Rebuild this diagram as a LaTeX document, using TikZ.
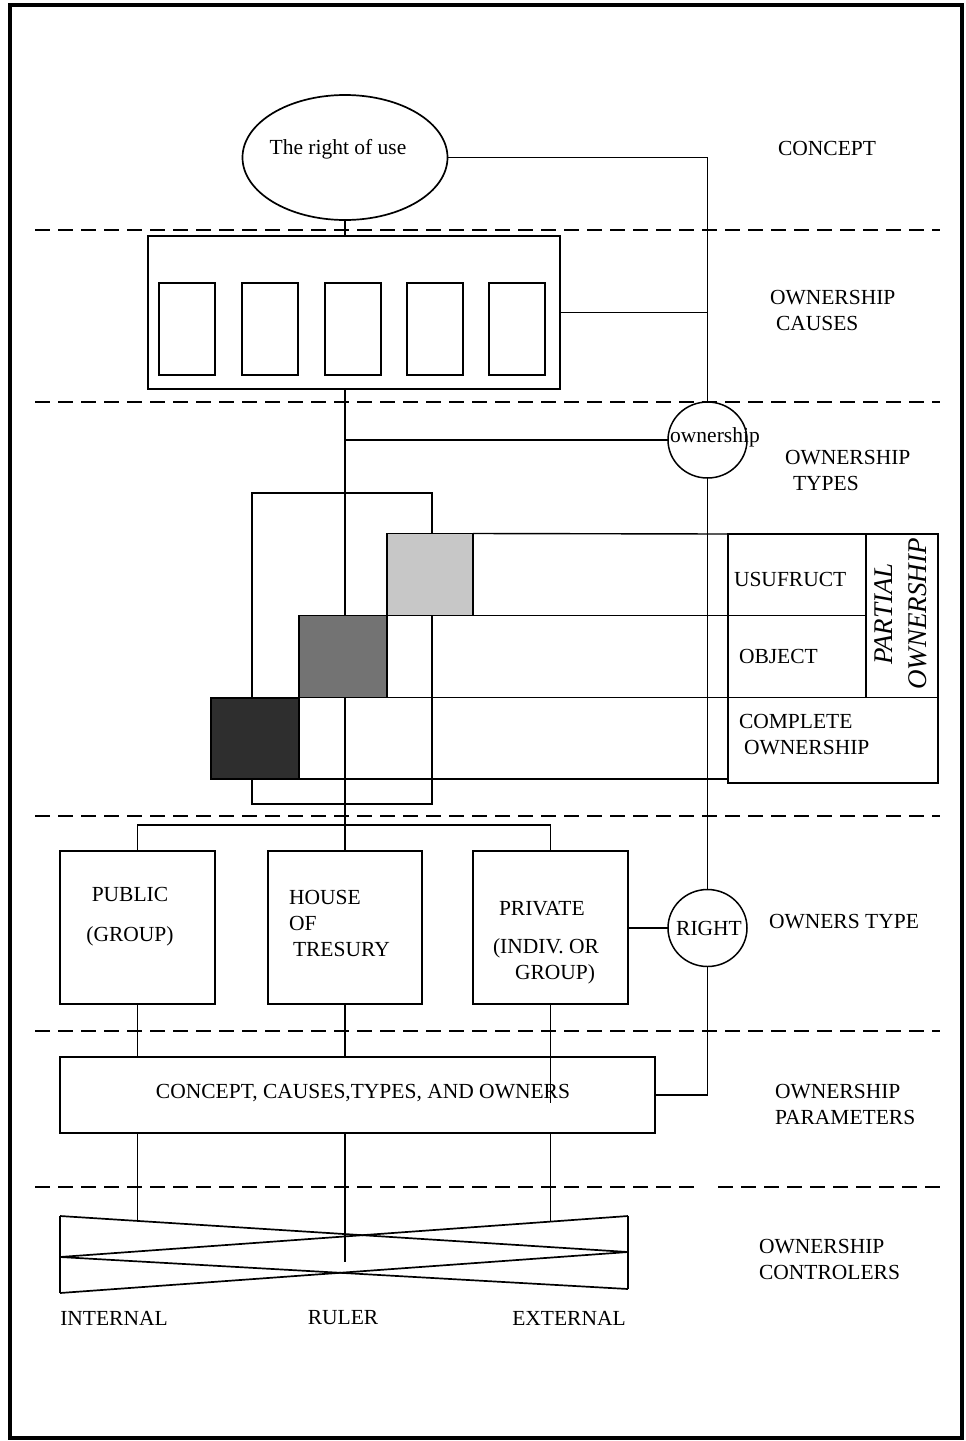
\documentclass[tikz,border=0pt]{standalone}
\usepackage{fontspec}
\setmainfont{Liberation Serif}
\usetikzlibrary{shapes.geometric}
\begin{document}
\begin{tikzpicture}[x=1pt,y=-1pt,
  every node/.style={inner sep=0pt,outer sep=0pt},
  box/.style={draw,line width=1.7pt,rectangle},
  conn/.style={line width=1.4pt},
  sep/.style={line width=1.6pt,dash pattern=on 15pt off 8pt},
  txt/.style={font=\fontsize{21.5}{26}\selectfont},
  ptxt/.style={font=\fontsize{27}{34}\selectfont\itshape}]
\useasboundingbox (0,0) rectangle (966,1441);
\draw[line width=4pt] (10,5) rectangle (962,1438);

% separators
\foreach \yy in {230,402,816,1031}{\draw[sep] (35,\yy) -- (940,\yy);}
\draw[sep] (35,1187) -- (697,1187);
\draw[sep] (718,1187) -- (940,1187);

% concept
\node[draw,ellipse,line width=1.7pt,minimum width=205pt,minimum height=125pt] (ru) at (345,157.5) {};
\node[txt] (rut) at (338,149) {The right of use};

% causes
\node[box,minimum width=412pt,minimum height=153pt] (causes) at (354,312.5) {};
\foreach \cx/\nm in {187/c1,270/c2,353/c3,435/c4,517/c5}{
  \node[box,minimum width=56pt,minimum height=92pt] (\nm) at (\cx,329) {};}

% ownership circle
\node[draw,ellipse,line width=1.5pt,minimum width=79pt,minimum height=76pt] (own) at (707.5,440) {};
\node[txt] (ownt) at (715,437) {ownership};

% right circle
\node[draw,ellipse,line width=1.5pt,minimum width=79pt,minimum height=77pt] (rgt) at (707.5,928) {};
\node[txt] (rgtt) at (709,928) {RIGHT};

% stacked area
\node[box,minimum width=180pt,minimum height=311pt] (outl) at (342,648.5) {};
\node[box,minimum width=210pt,minimum height=249pt] (tbl) at (833,658.5) {};
\coordinate (j0) at (345,389);
\coordinate (jown) at (345,440);
\coordinate (j1) at (345,825);

% connectors
\draw[conn] (ru.south) -- (ru.south |- causes.north);
\draw[conn] (ru.east) -| (own.north);
\draw[conn] (causes.east) -- (own.north |- causes.east);
\draw[conn] (j0) -- (j1);
\draw[conn] (jown) -- (own.west);
\draw[conn] (own.south) -- (rgt.north);

% table inner lines and long rows
\draw[box] (866,534) -- (866,697);
\draw[box] (728,615.5) -- (866,615.5);
\draw[box] (728,697.5) -- (938,697.5);
\draw[conn] (473,533.5) -- (tbl.north west);
\draw[conn] (387,615.5) -- (728,615.5);
\draw[conn] (299,697.5) -- (728,697.5);
\draw[conn] (299,779) -- (728,779);

% shaded squares
\node[box,fill=black!22,minimum width=86pt,minimum height=82pt] (lsq) at (430,574.5) {};
\node[box,fill=black!55,minimum width=88pt,minimum height=82pt] (msq) at (343,656.5) {};
\node[box,fill=black!82,minimum width=88pt,minimum height=81pt] (dsq) at (255,738.5) {};

% table text
\node[txt,anchor=west] (usu) at (734,579) {USUFRUCT};
\node[txt,anchor=west] (obj) at (739,656) {OBJECT};
\node[txt,anchor=west,align=left] (comp) at (739,735) {COMPLETE\\\hspace{5pt}OWNERSHIP};
\node[ptxt,rotate=90,align=center] (part) at (901,614) {PARTIAL\\OWNERSHIP};

% owners
\node[box,minimum width=155pt,minimum height=153pt] (pub) at (137.5,927.5) {};
\node[box,minimum width=154pt,minimum height=153pt] (house) at (345,927.5) {};
\node[box,minimum width=155pt,minimum height=153pt] (priv) at (550.5,927.5) {};
\node[txt,align=center] (pubt) at (130,917) {PUBLIC\\[14pt](GROUP)};
\node[txt,align=left,anchor=west] (houset) at (289,923) {HOUSE\\OF\\\hspace{4pt}TRESURY};
\node[txt,align=left,anchor=west] (privt) at (493,943) {\hspace{6pt}PRIVATE\\[12pt](INDIV. OR\\\hspace{22pt}GROUP)};

\draw[conn] (pub.north) |- (j1) -| (priv.north);
\draw[conn] (j1) -- (house.north);
\draw[conn] (rgt.west) -- (rgt.west -| priv.east);

% parameters
\node[box,minimum width=595pt,minimum height=76pt] (param) at (357.5,1095) {};
\node[txt] (paramt) at (363,1093) {CONCEPT, CAUSES,TYPES, AND OWNERS};
\draw[conn] (rgt.south) |- (param.east);
\draw[conn] (pub.south) -- (pub.south |- param.north);
\draw[conn] (house.south) -- (house.south |- param.north);
\draw[conn] (priv.south) -- (550.5,1103);

% controllers bowtie
\coordinate (bTL) at (60,1216);
\coordinate (bML) at (60,1257);
\coordinate (bBL) at (60,1293);
\coordinate (bTR) at (628,1216);
\coordinate (bMR) at (628,1252);
\coordinate (bBR) at (628,1289);
\draw[conn] (bTL) -- (bBL);
\draw[conn] (bTR) -- (bBR);
\draw[box] (bTL) -- (bMR);
\draw[box] (bML) -- (bTR);
\draw[box] (bML) -- (bBR);
\draw[box] (bBL) -- (bMR);
\coordinate (k1) at (137.5,1221);
\coordinate (k2) at (345,1262);
\coordinate (k3) at (550.5,1222);
\draw[conn] (param.south -| k1) -- (k1);
\draw[conn] (param.south -| k2) -- (k2);
\draw[conn] (param.south -| k3) -- (k3);

\node[txt] (intl) at (114,1318) {INTERNAL};
\node[txt] (rul) at (343,1318) {RULER};
\node[txt] (extl) at (569,1318) {EXTERNAL};

% right labels
\node[txt] (lconc) at (827,148) {CONCEPT};
\node[txt,align=left,anchor=west] (lcause) at (770,310) {OWNERSHIP\\\hspace{6pt}CAUSES};
\node[txt,align=left,anchor=west] (ltype) at (785,470) {OWNERSHIP\\\hspace{8pt}TYPES};
\node[txt,anchor=west] (lotype) at (769,922) {OWNERS TYPE};
\node[txt,align=left,anchor=west] (lparam) at (775,1104) {OWNERSHIP\\PARAMETERS};
\node[txt,align=left,anchor=west] (lctrl) at (759,1259) {OWNERSHIP\\CONTROLERS};
\end{tikzpicture}
\end{document}
